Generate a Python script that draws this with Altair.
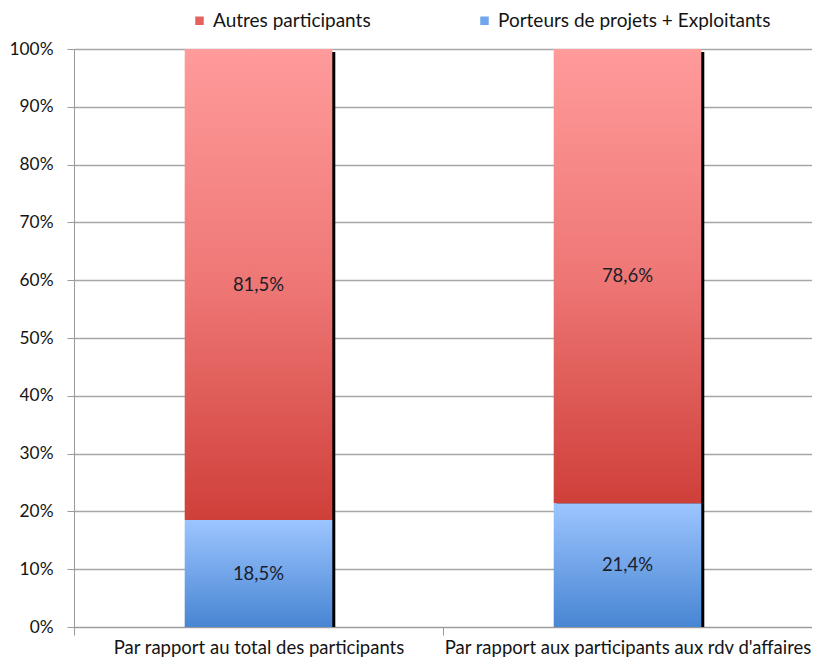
import altair as alt
import pandas as pd

categories = ["Par rapport au total des participants", "Par rapport aux participants aux rdv d'affaires"]
porteurs = [18.5, 21.4]
autres = [81.5, 78.6]
series = ["Autres participants", "Porteurs de projets + Exploitants"]

def fr(v):
    return f"{v:.1f}".replace(".", ",") + "%"

df = pd.DataFrame({
    "cat": categories,
    "p_start": [0.0 for _ in porteurs],
    "p_end": [p / 100 for p in porteurs],
    "a_start": [p / 100 for p in porteurs],
    "a_end": [(p + a) / 100 for p, a in zip(porteurs, autres)],
    "p_mid": [p / 200 for p in porteurs],
    "a_mid": [(p + a / 2) / 100 for p, a in zip(porteurs, autres)],
    "p_lab": [fr(p) for p in porteurs],
    "a_lab": [fr(a) for a in autres],
})
leg_df = pd.DataFrame({"cat": [categories[0]] * 2, "serie": series, "v": [0, 0]})

FONT = "Lato"
TXT = "#141414"

red_grad = alt.Gradient(gradient="linear", x1=0, x2=0, y1=0, y2=1,
                        stops=[alt.GradientStop(offset=0, color="#ff9b9b"),
                               alt.GradientStop(offset=0.5, color="#ee7775"),
                               alt.GradientStop(offset=1, color="#cf3f3a")])
blue_grad = alt.Gradient(gradient="linear", x1=0, x2=0, y1=0, y2=1,
                         stops=[alt.GradientStop(offset=0, color="#9cc5ff"),
                                alt.GradientStop(offset=1, color="#4885d3")])

xenc = alt.X("cat:N", sort=categories, title=None,
             scale=alt.Scale(paddingInner=0, paddingOuter=0),
             axis=alt.Axis(labelAngle=0, tickBand="extent", tickSize=8,
                           tickColor="#999999", domainColor="#999999",
                           labelFontSize=18.5, labelColor=TXT, labelFont=FONT,
                           labelPadding=3, labelLimit=0, grid=False))
yscale = alt.Scale(domain=[0, 1])
yaxis = alt.Axis(format=".0%", values=[i / 10 for i in range(11)], tickSize=7,
                 tickColor="#999999", domainColor="#999999", gridColor="#a6a6a6",
                 gridWidth=1.3, labelFontSize=17.3, labelColor=TXT, labelFont=FONT,
                 labelPadding=14, title=None)

base = alt.Chart(df)

shadow = base.mark_bar(color="black", width=alt.RelativeBandSize(0.4), xOffset=3, yOffset=3).encode(
    x=xenc, y=alt.Y("a_end:Q", scale=yscale, axis=yaxis), y2="p_start:Q")
blue = base.mark_bar(color=blue_grad, width=alt.RelativeBandSize(0.4)).encode(
    x="cat:N", y="p_end:Q", y2="p_start:Q")
red = base.mark_bar(color=red_grad, width=alt.RelativeBandSize(0.4)).encode(
    x="cat:N", y="a_end:Q", y2="a_start:Q")
blue_txt = base.mark_text(font=FONT, fontSize=18.5, color="#1a1d2a").encode(
    x="cat:N", y="p_mid:Q", text="p_lab:N")
red_txt = base.mark_text(font=FONT, fontSize=18.5, color="#1a1d2a").encode(
    x="cat:N", y="a_mid:Q", text="a_lab:N")

legend_layer = alt.Chart(leg_df).mark_square(size=72, opacity=0).encode(
    x="cat:N", y="v:Q",
    color=alt.Color("serie:N", scale=alt.Scale(domain=series, range=["#e3625e", "#6fa6ee"]),
                    legend=alt.Legend(title=None, orient="none", direction="horizontal",
                                      legendX=116, legendY=-38, symbolType="square",
                                      symbolSize=72, symbolOpacity=1, labelFont=FONT,
                                      labelFontSize=19, labelColor=TXT, labelLimit=0,
                                      labelOffset=4, columnPadding=104, symbolStrokeWidth=0)))

chart = alt.layer(shadow, blue, red, blue_txt, red_txt, legend_layer).properties(
    width=738, height=578,
    autosize=alt.AutoSizeParams(type="none"),
    padding={"left": 66, "top": 41, "right": 0, "bottom": 30},
).configure_view(stroke=None).configure(background="white")

chart.save("out.html", embed_options={"renderer": "svg", "actions": False})
